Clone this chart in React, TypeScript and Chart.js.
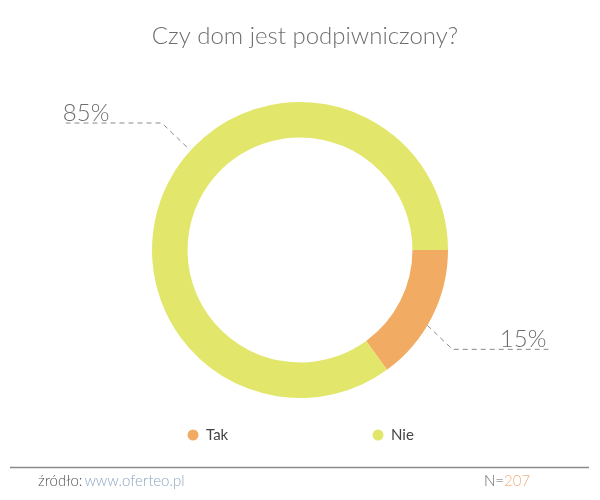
import React, { useEffect, useRef } from "react";
import { Chart, registerables } from "chart.js";

Chart.register(...registerables);

const categories = ["Tak", "Nie"];
const values = [15, 85];
const colors = ["#f2ab63", "#e2e66b"];
const labelTexts = ["15%", "85%"];
const labelAngles = [30.6, 222.3];
const labelRadialGap = [0, 5];
const titleText = "Czy dom jest podpiwniczony?";
const sourceLabel = "źródło:";
const sourceUrl = "www.oferteo.pl";
const nLabel = "N=";
const nValue = "207";

const FONT = "Lato, 'Open Sans', sans-serif";

const decorPlugin = {
  id: "decor",
  afterDraw(chart: any) {
    const ctx = chart.ctx as CanvasRenderingContext2D;
    const meta = chart.getDatasetMeta(0);
    const arc0 = meta.data[0] as any;
    const cx = arc0.x;
    const cy = arc0.y;
    const R = arc0.outerRadius;
    ctx.save();

    // title
    ctx.fillStyle = "#6e6e6e";
    ctx.font = `300 24px ${FONT}`;
    ctx.textAlign = "center";
    ctx.textBaseline = "alphabetic";
    ctx.fillText(titleText, 305, 44);

    // leader lines and labels
    labelTexts.forEach((t, i) => {
      const a = (labelAngles[i] * Math.PI) / 180;
      const r = R + labelRadialGap[i];
      const sx = cx + r * Math.cos(a);
      const sy = cy + r * Math.sin(a);
      const dxs = Math.cos(a) >= 0 ? 1 : -1;
      const dys = Math.sin(a) >= 0 ? 1 : -1;
      const ex = sx + dxs * 25;
      const ey = sy + dys * 24;
      const hx = ex + dxs * 96;
      ctx.strokeStyle = "#8a8a8a";
      ctx.lineWidth = 1;
      ctx.setLineDash([5, 4]);
      ctx.beginPath();
      ctx.moveTo(sx, sy);
      ctx.lineTo(ex, ey);
      ctx.lineTo(hx, ey);
      ctx.stroke();
      ctx.setLineDash([]);
      ctx.fillStyle = "#6e6e6e";
      ctx.font = `300 24px ${FONT}`;
      ctx.textAlign = dxs > 0 ? "right" : "left";
      ctx.textBaseline = "alphabetic";
      ctx.fillText(t, dxs > 0 ? hx - 2 : hx - 3, ey - 2);
    });

    // legend
    const legX = [193, 378];
    categories.forEach((c, i) => {
      ctx.fillStyle = colors[i];
      ctx.beginPath();
      ctx.arc(legX[i], 435, 5.5, 0, Math.PI * 2);
      ctx.fill();
      ctx.fillStyle = "#444";
      ctx.font = `400 15px ${FONT}`;
      ctx.textAlign = "left";
      ctx.textBaseline = "middle";
      ctx.fillText(c, legX[i] + 13, 435);
    });

    // footer
    ctx.strokeStyle = "#8a8a8a";
    ctx.lineWidth = 1.5;
    ctx.beginPath();
    ctx.moveTo(10, 467.5);
    ctx.lineTo(589, 467.5);
    ctx.stroke();

    ctx.textBaseline = "alphabetic";
    ctx.textAlign = "left";
    ctx.font = `300 15px ${FONT}`;
    ctx.fillStyle = "#555";
    ctx.fillText(sourceLabel, 38, 486);
    const w = ctx.measureText(sourceLabel).width;
    ctx.fillStyle = "#8ea6c2";
    ctx.fillText(sourceUrl, 38 + w + 2, 486);

    ctx.fillStyle = "#666";
    ctx.fillText(nLabel, 484, 486);
    const w2 = ctx.measureText(nLabel).width;
    ctx.fillStyle = "#f2b283";
    ctx.fillText(nValue, 484 + w2, 486);

    ctx.restore();
  },
};

export default function App() {
  const ref = useRef<HTMLCanvasElement | null>(null);
  useEffect(() => {
    if (!ref.current) return;
    const chart = new Chart(ref.current, {
      type: "doughnut",
      data: {
        labels: categories,
        datasets: [
          {
            data: values,
            backgroundColor: colors,
            borderWidth: 0,
          },
        ],
      },
      options: {
        responsive: false,
        animation: false,
        rotation: 90,
        cutout: "76%",
        layout: { padding: { top: 102, bottom: 102, left: 152, right: 152 } },
        plugins: {
          legend: { display: false },
          title: { display: false },
          tooltip: { enabled: false },
        },
      },
      plugins: [decorPlugin],
    });
    return () => chart.destroy();
  }, []);
  return (
    <div style={{ position: "absolute", left: 0, top: 0, width: 600, height: 500, background: "#fff" }}>
      <canvas ref={ref} width={600} height={500} style={{ width: 600, height: 500 }} />
    </div>
  );
}
